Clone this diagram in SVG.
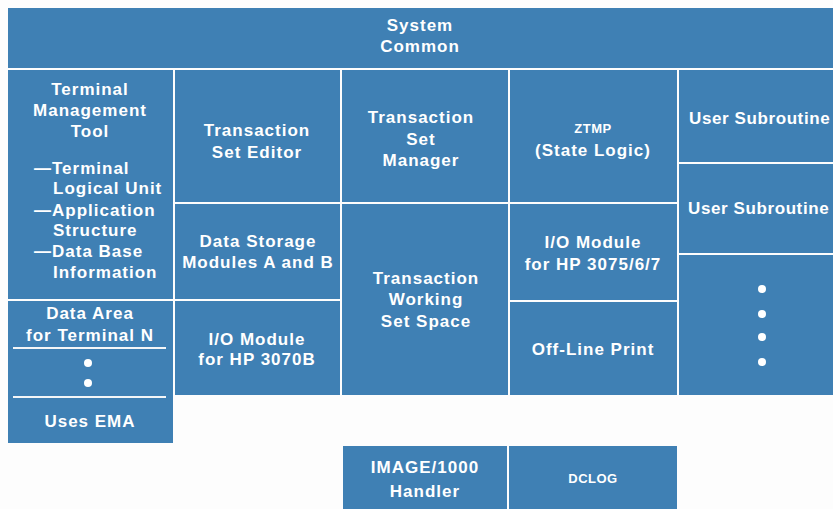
<svg xmlns="http://www.w3.org/2000/svg" width="833" height="509" viewBox="0 0 833 509">
<style>
.b{fill:#3f80b4}
text{font-family:"Liberation Sans",Arial,Helvetica,sans-serif;font-weight:bold;font-size:17px;letter-spacing:1px;fill:#ffffff}
.c{text-anchor:middle}
.s{font-size:13px;letter-spacing:0.5px}
.u{letter-spacing:0.6px}
.d{fill:#ffffff}
.ln{stroke:#f4f6f8;stroke-width:2}
</style>
<rect width="833" height="509" fill="#fdfdfd"/>
<g id="system-common"><rect class="b" x="8" y="8" width="825" height="60"/>
<text class="c" x="420" y="31">System</text><text class="c" x="420" y="52">Common</text></g>
<g id="tmt"><rect class="b" x="8" y="70" width="165" height="229"/>
<text class="c" x="90" y="95">Terminal</text><text class="c" x="90" y="116">Management</text><text class="c" x="90" y="137">Tool</text>
<text x="34" y="174">—Terminal</text><text x="53" y="194">Logical Unit</text>
<text x="34" y="216">—Application</text><text x="53" y="236">Structure</text>
<text x="34" y="257">—Data Base</text><text x="53" y="278">Information</text></g>
<g id="data-area"><rect class="b" x="8" y="301" width="165" height="142"/>
<text class="c" x="90" y="319">Data Area</text><text class="c" x="90" y="341">for Terminal N</text>
<line class="ln" x1="13" y1="348" x2="166" y2="348"/>
<circle class="d" cx="88" cy="363" r="4"/><circle class="d" cx="88" cy="383" r="4"/>
<line class="ln" x1="13" y1="397" x2="166" y2="397"/>
<text class="c" x="90" y="427">Uses EMA</text></g>
<g id="tse"><rect class="b" x="175" y="70" width="165" height="132"/>
<text class="c" x="257" y="136">Transaction</text><text class="c" x="257" y="158">Set Editor</text></g>
<g id="dsm"><rect class="b" x="175" y="204" width="165" height="95"/>
<text class="c" x="258" y="247">Data Storage</text><text class="c" x="258" y="268">Modules A and B</text></g>
<g id="io3070"><rect class="b" x="175" y="301" width="165" height="94"/>
<text class="c" x="257" y="345">I/O Module</text><text class="c" x="257" y="365">for HP 3070B</text></g>
<g id="tsm"><rect class="b" x="342" y="70" width="166" height="132"/>
<text class="c" x="421" y="123">Transaction</text><text class="c" x="421" y="145">Set</text><text class="c" x="421" y="166">Manager</text></g>
<g id="twss"><rect class="b" x="342" y="204" width="166" height="191"/>
<text class="c" x="426" y="284">Transaction</text><text class="c" x="426" y="305">Working</text><text class="c" x="426" y="327">Set Space</text></g>
<g id="ztmp"><rect class="b" x="510" y="70" width="167" height="132"/>
<text class="c s" x="593" y="133">ZTMP</text><text class="c" x="593" y="156">(State Logic)</text></g>
<g id="io3075"><rect class="b" x="510" y="204" width="167" height="96"/>
<text class="c" x="593" y="248">I/O Module</text><text class="c" x="593" y="270">for HP 3075/6/7</text></g>
<g id="offline"><rect class="b" x="510" y="302" width="167" height="93"/>
<text class="c" x="593" y="355">Off-Line Print</text></g>
<g id="usersub1"><rect class="b" x="679" y="70" width="154" height="92"/>
<text class="u" x="689" y="124">User Subroutine</text></g>
<g id="usersub2"><rect class="b" x="679" y="164" width="154" height="89"/>
<text class="u" x="688" y="214">User Subroutine</text></g>
<g id="more"><rect class="b" x="679" y="255" width="154" height="140"/>
<circle class="d" cx="762" cy="289" r="4"/><circle class="d" cx="762" cy="314" r="4"/><circle class="d" cx="762" cy="337" r="4"/><circle class="d" cx="762" cy="362" r="4"/></g>
<g id="image"><rect class="b" x="343" y="446" width="164" height="63"/>
<text class="c" x="425" y="473">IMAGE/1000</text><text class="c" x="425" y="497">Handler</text></g>
<g id="dclog"><rect class="b" x="509" y="446" width="168" height="63"/>
<text class="c s" x="593" y="483">DCLOG</text></g>
<g id="connectors"/>
</svg>
